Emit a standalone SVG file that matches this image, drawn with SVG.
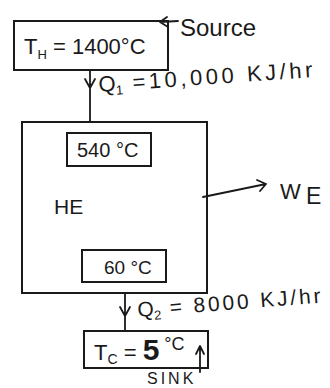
<svg xmlns="http://www.w3.org/2000/svg" width="330" height="388" viewBox="0 0 330 388">
<defs>
<style>
.box{fill:none;stroke:#1a1a1a;stroke-width:2}
.ln{fill:none;stroke:#1a1a1a;stroke-width:1.8;stroke-linecap:round;stroke-linejoin:round}
.t{font-family:"Liberation Sans",Arial,sans-serif;fill:#1a1a1a}
</style>
</defs>
<rect width="330" height="388" fill="#ffffff"/>
<g id="source">
<rect class="box" x="14" y="21" width="154" height="49"/>
<text class="t" x="24" y="54" font-size="22">T<tspan font-size="13" dy="5">H</tspan><tspan dy="-5"> = 1400°C</tspan></text>
<text class="t" x="180" y="36" font-size="24">Source</text>
</g>
<g id="engine">
<rect class="box" x="22" y="122" width="185" height="171"/>
<text class="t" x="54" y="214" font-size="21">HE</text>
</g>
<g id="hot-label">
<rect class="box" x="67" y="133" width="84" height="33"/>
<text class="t" x="77" y="157" font-size="20">540 °C</text>
</g>
<g id="cold-label">
<rect class="box" x="82" y="250" width="84" height="32"/>
<text class="t" x="104" y="274" font-size="19">60 °C</text>
</g>
<g id="sink">
<rect class="box" x="84" y="331" width="124" height="37"/>
<text class="t" x="94" y="360" font-size="22">T<tspan font-size="14" dy="4">C</tspan><tspan dy="-4"> = </tspan><tspan font-size="30" font-weight="bold">5</tspan><tspan font-size="18" dy="-10"> °C</tspan></text>
<text class="t" x="147" y="384" font-size="16" letter-spacing="3">SINK</text>
</g>
<g id="work">
<text class="t" x="280" y="199" font-size="22">W</text>
<text class="t" x="306" y="204" font-size="23">E</text>
</g>
<g id="connectors">
<path class="ln" d="M178 21 L160 22 M167 17 L160 22 L168 27"/>
<path class="ln" d="M90 70 L90 122 M85 79 L90 88 L95 79"/>
<path class="ln" d="M125 293 L125 331 M120 307 L125 316 L130 307"/>
<path class="ln" d="M203 197 L266 184 M257 180 L266 184 L260 191"/>
<path class="ln" d="M200 372 L200 347 M196 354 L200 346 L204 354"/>
</g>
<g id="labels">
<text class="t" x="99" y="92" font-size="22" transform="rotate(-4 99 92)">Q<tspan font-size="13" dy="4">1</tspan><tspan dy="-4" textLength="190"> =10,000 KJ/hr</tspan></text>
<text class="t" x="138" y="317" font-size="21" transform="rotate(-4.5 138 317)">Q<tspan font-size="13" dy="4">2</tspan><tspan dy="-4" textLength="160"> = 8000 KJ/hr</tspan></text>
</g>
</svg>
